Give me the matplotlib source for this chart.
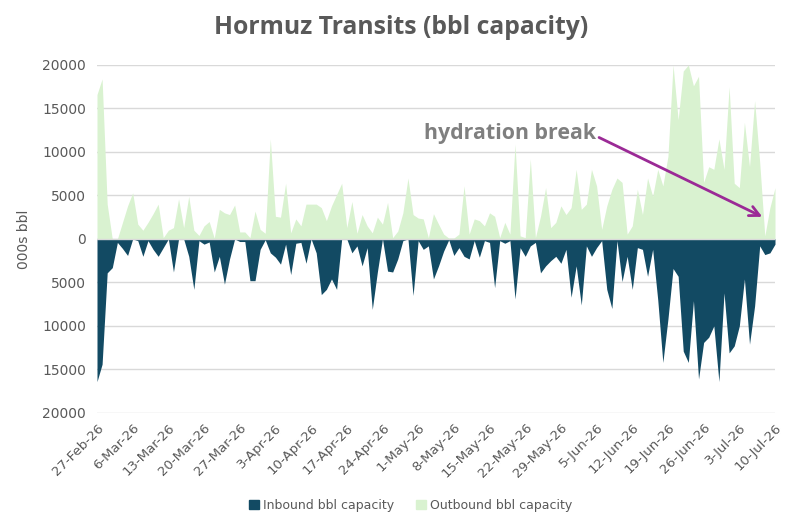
import matplotlib
matplotlib.use("Agg")
import matplotlib.pyplot as plt
import matplotlib.dates as mdates
from matplotlib.patches import Patch
from matplotlib.ticker import FuncFormatter
import pandas as pd

# daily series, 27-Feb-26 .. 10-Jul-26 (000s bbl)
dates = pd.date_range("2026-02-27", "2026-07-10", freq="D")

outbound = [16600, 18400, 4000, 0, 0, 1900, 3800, 5300, 1700, 1000,
            1900, 2900, 4000, 150, 1000, 1300, 4600, 1300, 4900, 1000,
            400, 1500, 2000, 100, 3400, 3000, 2800, 3900, 800, 800,
            150, 3200, 1100, 650, 11500, 2600, 2500, 6400, 700, 2300,
            1500, 4000, 4000, 4000, 3600, 2100, 3800, 5100, 6400, 1300,
            4300, 650, 2800, 1500, 700, 2500, 1700, 4200, 150, 900,
            3000, 7000, 2800, 2400, 2300, 150, 2900, 1700, 550, 100,
            100, 550, 6100, 550, 2300, 2100, 1500, 3000, 2600, 150,
            1900, 550, 10900, 350, 150, 9200, 150, 2600, 5900, 1300,
            1900, 3800, 2800, 3600, 8000, 3400, 4000, 8000, 6100, 1100,
            3800, 5700, 7000, 6500, 550, 1500, 5700, 2800, 7000, 4900,
            8000, 6100, 9500, 20000, 13700, 19300, 20000, 17600, 18700, 6500,
            8300, 8000, 11500, 8000, 17500, 6400, 5900, 13400, 8300, 15900,
            8800, 350, 3600, 5900]

inbound = [16400, 14400, 3900, 3300, 400, 1100, 1900, 0, 200, 2000,
           200, 1200, 2000, 1000, 0, 3800, 0, 0, 2000, 5800,
           200, 600, 350, 3800, 2000, 5200, 2300, 0, 300, 300,
           4800, 4800, 1200, 100, 1600, 2100, 2900, 600, 4100, 500,
           400, 2800, 0, 1600, 6400, 5800, 4600, 5800, 0, 0,
           1600, 800, 3100, 1000, 8100, 3800, 0, 3700, 3800, 2300,
           200, 0, 6500, 200, 1200, 800, 4600, 3100, 1400, 100,
           1900, 1000, 2000, 2300, 200, 2100, 200, 400, 5600, 200,
           500, 200, 6900, 1000, 2000, 800, 400, 3900, 3100, 2500,
           2000, 2800, 1200, 6700, 3100, 7600, 800, 2000, 1000, 200,
           5800, 8000, 200, 4900, 2000, 5800, 1000, 1200, 4300, 1200,
           7000, 14200, 9200, 3400, 4300, 12900, 14200, 7100, 16100, 11900,
           11300, 10000, 16400, 6200, 13100, 12300, 10000, 4600, 12100, 7700,
           800, 1800, 1600, 600]

tick_dates = dates[::7]
inbound_neg = [-v for v in inbound]

blue = "#124A63"
green = "#D9F2D0"
grey = "#595959"

fig = plt.figure(figsize=(7.97, 5.28), dpi=100)
ax = fig.add_axes([0.1217, 0.218, 0.8507, 0.659])

ax.fill_between(dates, 0, outbound, color=green, linewidth=0, zorder=2)
ax.fill_between(dates, 0, inbound_neg, color=blue, linewidth=0, zorder=3)

ax.set_xlim(dates[0], dates[-1])
ax.set_ylim(-20000, 20000)
ax.set_yticks(range(-20000, 20001, 5000))
ax.yaxis.set_major_formatter(FuncFormatter(lambda v, p: f"{abs(int(v))}"))
ax.grid(axis="y", color="#D9D9D9", linewidth=1, zorder=0)
ax.set_axisbelow(True)
ax.axhline(0, color="#D9D9D9", linewidth=1, zorder=4)

ax.set_xticks(tick_dates)
ax.xaxis.set_major_formatter(mdates.DateFormatter("%-d-%b-%y"))
for lab in ax.get_xticklabels():
    lab.set_rotation(45)
    lab.set_ha("right")
    lab.set_rotation_mode("anchor")
ax.tick_params(axis="x", length=0, labelsize=9.5, colors=grey, pad=6)
ax.tick_params(axis="y", length=0, labelsize=10, colors=grey, pad=8)
for s in ax.spines.values():
    s.set_visible(False)

ax.set_ylabel("000s bbl", fontsize=10, color=grey, labelpad=8)

fig.text(0.503, 0.948, "Hormuz Transits (bbl capacity)", ha="center", va="center",
         fontsize=17.8, fontweight="bold", color=grey, family="Open Sans")

ax.annotate("", xy=(dates[131], 2400), xytext=(dates[98], 11800),
            arrowprops=dict(arrowstyle="->", color="#9B2A96", lw=2,
                            mutation_scale=18), zorder=6)
ax.text(dates[98], 12100, "hydration break", ha="right", va="center",
        fontsize=15.4, fontweight="bold", color="#7F7F7F", family="Open Sans", zorder=6)

handles = [Patch(color=blue, label="Inbound bbl capacity"),
           Patch(color=green, label="Outbound bbl capacity")]
leg = fig.legend(handles=handles, loc="center", bbox_to_anchor=(0.515, 0.043), ncol=2,
                 frameon=False, fontsize=9, handlelength=0.8, handleheight=0.8,
                 handletextpad=0.3, columnspacing=1.8)
for t in leg.get_texts():
    t.set_color(grey)

fig.savefig("out.png", dpi=100)
